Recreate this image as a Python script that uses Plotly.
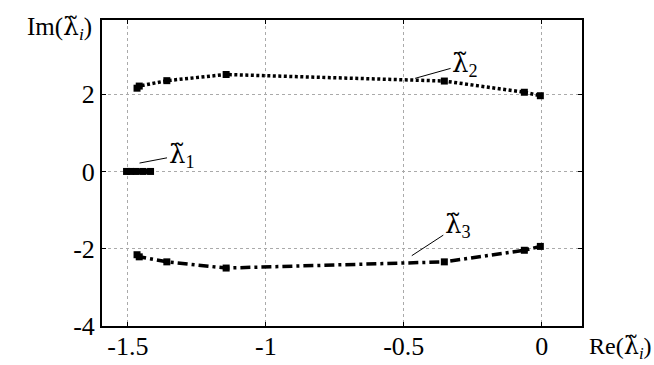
import plotly.graph_objects as go

# Eigenvalue trajectories (Re, Im)
re1 = [-1.505, -1.49, -1.47, -1.445, -1.418]
im1 = [0.0, 0.0, 0.0, 0.0, 0.0]
re2 = [-1.467, -1.459, -1.359, -1.144, -0.353, -0.063, -0.005]
im2 = [2.155, 2.21, 2.35, 2.51, 2.34, 2.05, 1.96]
re3 = [-1.467, -1.459, -1.359, -1.144, -0.353, -0.063, -0.005]
im3 = [-2.155, -2.21, -2.34, -2.5, -2.34, -2.04, -1.94]

x_ticks = [-1.5, -1, -0.5, 0]
x_tick_labels = ["-1.5", "-1", "-0.5", "0"]
y_ticks = [-4, -2, 0, 2]
y_tick_labels = ["-4", "-2", "0", "2"]

FONT = "Liberation Serif"
LAM = "<span style='font-family:DejaVu Serif'>\u03bb\u0303</span>"

def serif(t):
    return "<span style='font-family:Liberation Serif'>%s</span>" % t

fig = go.Figure()
fig.add_trace(go.Scatter(x=re1, y=im1, mode="lines+markers",
                         line=dict(color="black", width=5),
                         marker=dict(symbol="square", size=7, color="black")))
fig.add_trace(go.Scatter(x=re2, y=im2, mode="lines+markers",
                         line=dict(color="black", width=3.5, dash="3px,2.5px"),
                         marker=dict(symbol="square", size=7, color="black")))
fig.add_trace(go.Scatter(x=re3, y=im3, mode="lines+markers",
                         line=dict(color="black", width=3.5, dash="10px,4px,3px,4px"),
                         marker=dict(symbol="square", size=7, color="black")))

ann_font = dict(family=FONT, size=26, color="black")
def lab(x, y, n, ax, ay):
    fig.add_annotation(x=x, y=y, xref="x", yref="y", text=LAM + "<sub>%d</sub>" % n,
                       showarrow=True, arrowhead=0, arrowwidth=1, arrowcolor="black",
                       ax=ax, ay=ay, font=ann_font, standoff=0, startstandoff=0)

lab(-1.458, 0.217, 1, 42, -8)
lab(-0.459, 2.41, 2, 50, -14)
lab(-0.471, -2.18, 3, 46, -30)

fig.add_annotation(x=0, y=1, xref="paper", yref="paper", xanchor="right", yanchor="top",
                   xshift=-8, yshift=10,
                   text="Im(" + LAM + "<sub><i>i</i></sub>)", showarrow=False,
                   font=dict(family=FONT, size=25, color="black"))
fig.add_annotation(x=1, y=0, xref="paper", yref="paper", xanchor="right", yanchor="top",
                   xshift=72, yshift=-4,
                   text="Re(" + LAM + "<sub><i>i</i></sub>)", showarrow=False,
                   font=dict(family=FONT, size=24, color="black"))

axis_common = dict(showgrid=True, gridcolor="#aaaaaa", griddash="dot", gridwidth=1,
                   showline=True, linecolor="black", linewidth=2, mirror="allticks",
                   ticks="inside", ticklen=4, tickcolor="black", tickwidth=1,
                   zeroline=False, automargin=False,
                   tickfont=dict(family=FONT, size=26, color="black"))

fig.update_xaxes(range=[-1.594, 0.146], tickvals=x_ticks,
                 ticktext=[serif(t) for t in x_tick_labels],
                 ticklabelstandoff=-4, **axis_common)
fig.update_yaxes(range=[-4, 3.92], tickvals=y_ticks,
                 ticktext=[serif(t) for t in y_tick_labels], **axis_common)

fig.update_layout(width=654, height=365, showlegend=False,
                  margin=dict(l=102, r=72, t=20, b=39, autoexpand=False),
                  plot_bgcolor="white", paper_bgcolor="white",
                  font=dict(family=FONT, color="black"))

fig.write_html("out.html", config={"displayModeBar": False},
               post_script="document.body.style.margin='0';document.body.style.overflow='hidden';")
